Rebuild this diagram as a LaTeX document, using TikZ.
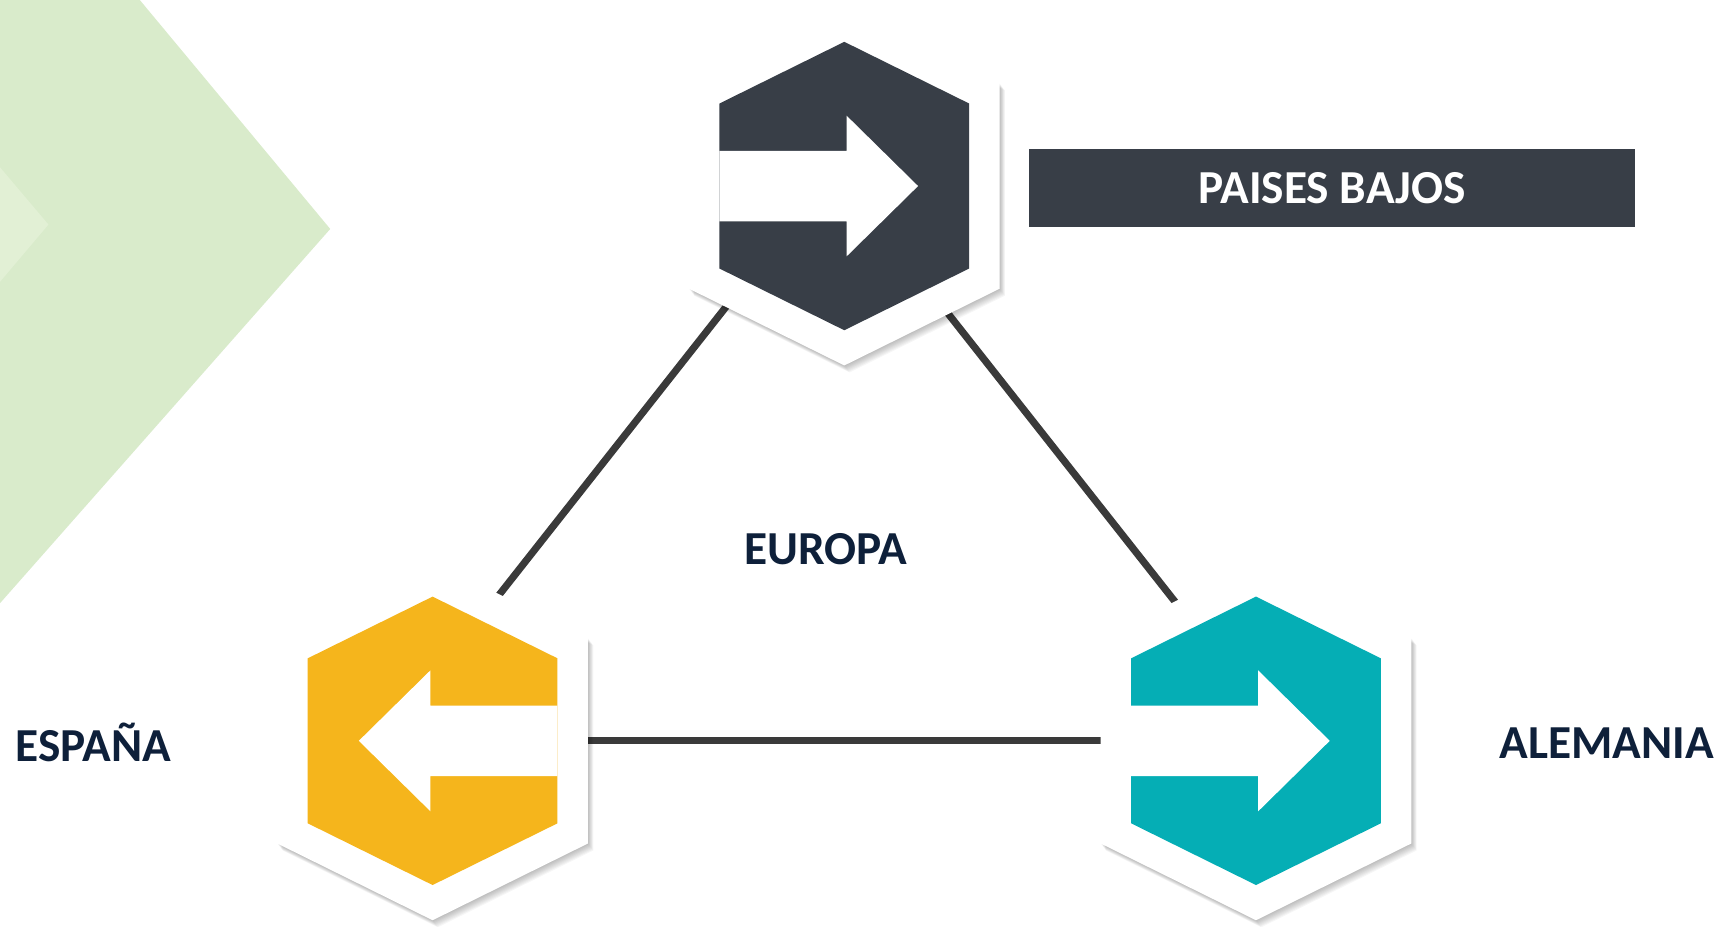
\documentclass[tikz,border=0pt]{standalone}
\usepackage{fontspec}
\setmainfont{Carlito}
\usepackage{xcolor}
\definecolor{hexdark}{RGB}{56, 62, 71}
\definecolor{hexyellow}{RGB}{245, 181, 28}
\definecolor{hexteal}{RGB}{5, 174, 181}
\definecolor{bggreen}{RGB}{217, 235, 203}
\definecolor{bglight}{RGB}{226, 240, 213}
\definecolor{txtnavy}{RGB}{14, 32, 58}
\definecolor{linegray}{RGB}{58, 58, 58}
\usepackage{tikz}
\usetikzlibrary{calc}

% hexagon round a centre, #2 = half height
\newcommand{\hexpath}[2]{($(#1)+(0,-#2)$) -- ($(#1)+(0.866*#2,-0.572*#2)$) -- ($(#1)+(0.866*#2,0.572*#2)$) -- ($(#1)+(0,#2)$) -- ($(#1)+(-0.866*#2,0.572*#2)$) -- ($(#1)+(-0.866*#2,-0.572*#2)$) -- cycle}
% block arrow, #2 = 1 (right) or -1 (left)
\newcommand{\arrowpath}[2]{($(#1)+(-113.4*#2,-32)$) -- ($(#1)+(2*#2,-32)$) -- ($(#1)+(2*#2,-64)$) -- ($(#1)+(67*#2,0)$) -- ($(#1)+(2*#2,64)$) -- ($(#1)+(2*#2,32)$) -- ($(#1)+(-113.4*#2,32)$) -- cycle}

\begin{document}
\begin{tikzpicture}[
        x=1pt, y=-1pt,
        link/.style={line width=6.5pt, color=linegray},
        hexshadow/.style={fill=black, fill opacity=0.035},
        hexouter/.style={fill=white},
        country/.style={
            font=\fontsize{43}{50}\selectfont\bfseries,
            text=txtnavy,
            inner sep=0pt
        },
        banner/.style={
            rectangle,
            fill=hexdark,
            text=white,
            minimum width=550pt,
            minimum height=71pt,
            text height=27.7pt,
            text depth=0pt,
            font=\fontsize{43}{50}\selectfont\bfseries
        }
    ]
        \useasboundingbox (0,0) rectangle (1568,842);

        % background
        \fill[bggreen] (0,0) -- (127,0) -- (300,208) -- (0,548) -- cycle;
        \fill[bglight] (0,152) -- (44,204) -- (0,256) -- cycle;

        \coordinate (pb) at (767,169);
        \coordinate (es) at (393,673);
        \coordinate (de) at (1141,673);

        % connectors
        \draw[link] ([xshift=-21pt]pb) -- ([xshift=-44pt]es);
        \draw[link] ([xshift=3pt]pb) -- ([xshift=26pt]de);
        \draw[link] (es) -- (de);

        % hexagons
        \foreach \c/\col/\dir in {pb/hexdark/1, es/hexyellow/-1, de/hexteal/1} {
            \foreach \s in {1,...,8}
                \fill[hexshadow] ([shift={(0.6*\s,0.8*\s)}]\c) coordinate (sh) \hexpath{sh}{163};
            \fill[hexouter] \hexpath{\c}{163};
            \fill[\col] \hexpath{\c}{131};
            \fill[white] \arrowpath{\c}{\dir};
        }

        % labels
        \node[banner] (bajos) at (1210,171) {PAISES BAJOS};
        \node[country, anchor=base] (europa) at (750,513) {EUROPA};
        \node[country, anchor=base west] (espana) at (14,692) {ESPAÑA};
        \node[country, anchor=base west] (alemania) at (1362,689) {ALEMANIA};

    \end{tikzpicture}
\end{document}
